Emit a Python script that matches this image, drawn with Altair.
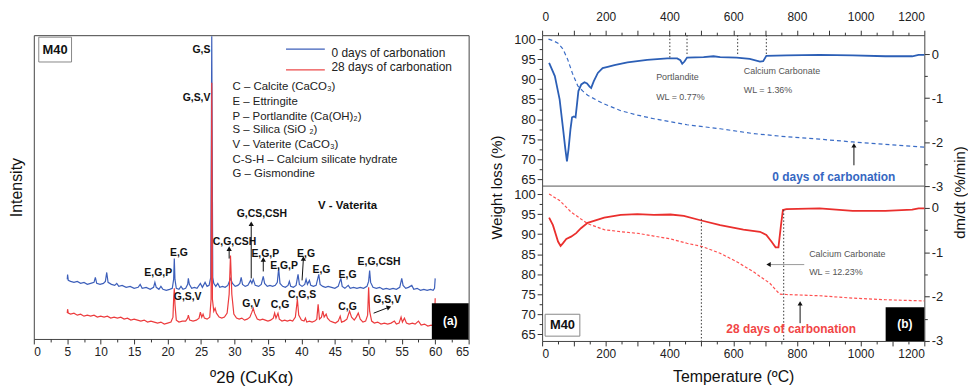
import altair as alt
import pandas as pd

FONT = "Liberation Sans"

# ---------------- XRD data (left panel): (2theta, intensity a.u.) ----------------
blue_xrd = [(5.0,60),(5.05,65),(5.15,59),(5.5,58),(6.0,57),(6.5,58),(7.0,56),(7.5,57),(8.0,55),(8.5,56),
    (9.0,57),(9.2,62),(9.4,56),(9.9,55),(10.4,56),(10.7,58),(10.9,67),(11.1,57),(11.6,55),(12.1,54),
    (12.4,56),(12.7,53),(13.2,54),(13.8,52),(14.4,53),(15.0,51),(15.6,52),(15.9,55),(16.2,51),(16.8,52),
    (17.4,50),(17.9,52),(18.1,57),(18.3,52),(18.7,50),(19.0,53),(19.3,50),(19.8,49),(20.3,50),(20.7,51),
    (20.9,60),(21.0,81),(21.1,60),(21.3,51),(21.7,50),(22.0,53),(22.3,50),(22.7,51),(23.0,55),(23.1,61),
    (23.25,55),(23.6,51),(24.0,52),(24.4,51),(24.9,56),(25.2,52),(25.6,57),(25.9,53),(26.2,54),(26.45,62),
    (26.6,305),(26.75,62),(26.9,56),(27.2,53),(27.5,56),(27.8,52),(28.2,53),(28.6,52),(29.0,54),(29.4,61),
    (29.7,56),(30.1,53),(30.5,54),(30.8,56),(31.0,62),(31.2,55),(31.6,53),(32.0,54),(32.4,59),(32.6,56),
    (32.8,60),(33.1,54),(33.6,53),(34.0,55),(34.3,63),(34.5,56),(34.9,53),(35.3,54),(35.7,53),(36.1,54),
    (36.4,57),(36.6,71),(36.8,56),(37.2,53),(37.6,52),(38.0,54),(38.2,58),(38.4,53),(38.8,52),(39.2,54),
    (39.5,65),(39.7,55),(40.1,53),(40.5,55),(40.7,60),(40.9,55),(41.2,59),(41.4,54),(41.8,53),(42.2,54),
    (42.6,65),(42.8,55),(43.2,53),(43.6,52),(44.0,53),(44.5,52),(45.0,51),(45.5,53),(45.9,61),(46.1,53),
    (46.5,51),(47.0,54),(47.3,51),(47.8,52),(48.3,51),(48.8,52),(49.3,51),(49.8,53),(50.05,58),(50.2,69),
    (50.35,57),(50.7,52),(51.2,51),(51.7,52),(52.2,50),(52.7,51),(53.2,50),(53.7,51),(54.2,50),(54.7,52),
    (55.0,61),(55.2,54),(55.6,51),(56.0,52),(56.5,54),(56.8,50),(57.3,51),(57.8,49),(58.3,50),(58.8,49),
    (59.3,50),(59.7,49),(59.9,51),(60.0,61)]

red_xrd = [(5.0,26),(5.05,30),(5.15,26),(5.5,25),(6.0,26),(6.5,24),(7.0,25),(7.5,23),(8.0,24),(8.5,23),
    (9.0,24),(9.5,22),(10.0,23),(10.5,22),(11.0,23),(11.5,21),(12.0,22),(12.5,21),(13.0,22),(13.5,20),
    (14.0,21),(14.5,19),(15.0,20),(15.5,19),(16.0,18),(16.5,19),(17.0,17),(17.5,18),(18.0,17),(18.5,16),
    (19.0,17),(19.5,15),(20.0,16),(20.5,17),(20.8,22),(20.9,40),(21.0,51),(21.1,35),(21.3,19),(21.7,17),
    (22.2,18),(22.7,18),(23.0,21),(23.1,24),(23.3,19),(23.8,18),(24.3,19),(24.7,21),(24.9,27),(25.1,22),
    (25.3,25),(25.5,21),(25.9,20),(26.3,22),(26.5,40),(26.6,258),(26.7,40),(26.9,28),(27.1,31),(27.3,26),
    (27.7,22),(28.1,21),(28.5,22),(28.9,26),(29.2,45),(29.4,84),(29.6,45),(29.9,25),(30.3,21),(30.7,20),
    (31.1,21),(31.5,19),(31.9,20),(32.3,22),(32.6,27),(32.8,31),(33.0,26),(33.4,20),(33.8,19),(34.2,20),
    (34.6,19),(35.0,18),(35.4,19),(35.8,21),(36.0,26),(36.2,21),(36.5,26),(36.7,20),(37.1,18),(37.5,19),
    (37.9,18),(38.3,19),(38.7,18),(39.1,22),(39.4,40),(39.6,24),(40.0,19),(40.4,18),(40.6,21),(40.8,17),
    (41.2,18),(41.6,17),(42.0,18),(42.3,20),(42.5,35),(42.7,20),(43.0,22),(43.2,28),(43.4,22),(43.7,25),
    (43.9,21),(44.3,18),(44.7,17),(45.1,16),(45.5,18),(45.8,23),(46.0,17),(46.4,18),(46.8,20),(47.2,28),
    (47.5,22),(47.9,19),(48.2,22),(48.5,26),(48.8,20),(49.2,17),(49.6,18),(49.9,24),(50.05,52),(50.2,28),
    (50.5,18),(50.9,16),(51.4,17),(51.9,15),(52.4,16),(52.9,15),(53.4,16),(53.9,18),(54.2,15),(54.6,16),
    (54.9,22),(55.1,17),(55.4,21),(55.7,16),(56.1,15),(56.6,16),(57.0,15),(57.5,18),(57.9,14),(58.4,15),
    (58.9,13),(59.4,14),(59.8,13),(59.95,28),(60.0,41)]

# phase labels (text, 2theta, intensity)
phase_labels = [("E,G,P",18.6,66),("E,G",21.7,87),("C,G,CSH",30.0,98),("G,CS,CSH",34.1,126),
    ("E,G,P",34.6,86),("E,G,P",37.4,73),("E,G",40.7,86),("E,G",43.0,69),("E,G",46.9,64),
    ("E,G,CSH",51.6,78),("G,S,V",23.0,42),("G,V",32.5,35),("C,G",36.8,34),("C,G,S",40.1,44),
    ("C,G",46.9,32),("G,S,V",52.8,39)]
peak_labels_right = [("G,S",26.4,291),("G,S,V",26.4,243)]
vaterita_label = [("V - Vaterita",46.9,134)]
legend_lines = [(37.7,43.5,292,"#3d5fba"),(37.7,43.5,271,"#ec4a4a")]
legend_texts = [("0 days of carbonation",44.5,288),("28 days of carbonation",44.5,274)]
phase_key = ["C – Calcite (CaCO₃)","E – Ettringite","P – Portlandite (Ca(OH)₂)","S – Silica (SiO ₂)",
    "V – Vaterite (CaCO₃)","C-S-H –  Calcium silicate hydrate","G – Gismondine"]
phase_key_y = [254,239,224,210,195,180,166]
xrd_arrows = [(32.5,61,32.5,116,0),(29.2,81,29.2,91,0),(34.3,68,34.3,80,0),(40.1,59,40.3,81,0),(50.8,26,53.1,32,69)]

# ---------------- TGA data (right panel) ----------------
tg0 = [(20,100.0),(35,99.6),(50,99.0),(65,97.6),(80,95.0),(95,91.5),(112,88.3),(128,87.0),(143,86.0),
    (170,84.8),(195,83.8),(247,82.1),(300,81.0),(351,80.1),(455,78.6),(559,77.6),(663,76.4),(767,75.6),
    (871,75.0),(975,74.3),(1078,73.7),(1200,73.0)]
dtg0 = [(22,-0.20),(40,-0.50),(55,-1.03),(66,-1.71),(73,-2.16),(78,-2.44),(83,-2.16),(89,-1.71),(94,-1.44),
    (100,-1.42),(105,-1.44),(110,-1.11),(114,-0.84),(123,-0.69),(133,-0.64),(141,-0.67),(149,-0.74),
    (154,-0.77),(162,-0.62),(175,-0.43),(190,-0.32),(206,-0.29),(227,-0.25),(268,-0.19),(330,-0.13),
    (393,-0.10),(424,-0.10),(434,-0.14),(440,-0.22),(447,-0.17),(455,-0.08),(507,-0.07),(538,-0.05),
    (559,-0.07),(611,-0.08),(652,-0.11),(684,-0.17),(694,-0.16),(704,-0.04),(767,-0.03),(871,-0.02),
    (975,-0.03),(1078,-0.05),(1162,-0.05),(1182,-0.02),(1200,-0.02)]
tg28 = [(22,100.0),(55,98.4),(91,95.5),(143,92.6),(195,91.1),(247,90.6),(299,90.2),(351,89.5),(403,88.8),
    (455,87.7),(502,86.9),(559,85.2),(611,83.1),(663,80.6),(715,77.7),(746,75.0),(767,74.9),(871,74.6),
    (975,74.0),(1078,73.6),(1200,73.3)]
dtg28 = [(22,-0.22),(34,-0.39),(50,-0.76),(58,-0.86),(65,-0.80),(76,-0.70),(91,-0.65),(107,-0.57),
    (122,-0.46),(143,-0.34),(195,-0.22),(247,-0.16),(299,-0.14),(351,-0.16),(403,-0.15),(445,-0.18),
    (497,-0.28),(559,-0.39),(632,-0.49),(684,-0.54),(704,-0.61),(720,-0.76),(733,-0.89),(742,-0.89),
    (750,-0.39),(756,-0.05),(767,-0.03),(871,-0.01),(923,-0.04),(975,-0.07),(1078,-0.07),(1162,-0.04),
    (1182,-0.01),(1200,-0.01)]

top_notes = [("Portlandite",358,90.57),("WL = 0.77%",358,85.6),("Calcium Carbonate",633,92.05),("WL = 1.36%",633,87.34)]
top_dotted = [(401,100.99,95.28),(455,100.99,95.78),(614,100.99,95.78),(704,100.99,96.03)]
top_arrow = [(979,68.47,979,73.44,0)]
top_series_label = [("0 days of carbonation",916,65.5)]
bot_notes = [("Calcium Carbonate",838.5,85.11),("WL = 12.23%",838.5,80.40)]
bot_dotted = [(500,93.8,63.3),(758.5,96.03,63.3)]
bot_gray_arrow = [(823,82.38,711,82.38,270)]
bot_arrow = [(810,67.74,810,72.7,0)]
bot_series_label = [("28 days of carbonation",782,66.25)]
divider = [(0,1200,63.27)]

# ---------------- left panel ----------------
def df(rows, cols):
    return pd.DataFrame(rows, columns=cols)

xl_scale = alt.Scale(domain=[0, 65], nice=False, zero=False)
yl_scale = alt.Scale(domain=[0, 306], nice=False, zero=False)
xl_axis = alt.Axis(values=[i * 2.5 for i in range(27)],
                   labelExpr="datum.value % 5 === 0 ? format(datum.value, 'd') : ''",
                   tickSize={"condition": {"test": "datum.value % 5 === 0", "value": 5}, "value": 3},
                   labelFontSize=12, labelPadding=3, title="º2θ (CuKα)", titleFontSize=17,
                   titlePadding=12)
yl_axis = alt.Axis(labels=False, ticks=False, title="Intensity", titleFontSize=16, titlePadding=9)
XL = alt.X("x:Q", scale=xl_scale, axis=xl_axis)
YL = alt.Y("y:Q", scale=yl_scale, axis=yl_axis)

bdf = df(blue_xrd, ["x", "y"])
rdf = df(red_xrd, ["x", "y"])
blue_line = alt.Chart(bdf).mark_line(color="#3d5fba", strokeWidth=1.2).encode(x=XL, y=YL)
red_line = alt.Chart(rdf).mark_line(color="#ec3b3d", strokeWidth=1.2).encode(x=XL, y=YL)

lab_df = df(phase_labels, ["label", "x", "y"])
labs = alt.Chart(lab_df).mark_text(font=FONT, fontSize=10.5, fontWeight="bold", color="#111",
                                   align="center", baseline="middle").encode(x=XL, y=YL, text="label:N")
labs_r = alt.Chart(df(peak_labels_right, ["label", "x", "y"])).mark_text(
    font=FONT, fontSize=10.5, fontWeight="bold", color="#111", align="right", baseline="middle"
).encode(x=XL, y=YL, text="label:N")
vat = alt.Chart(df(vaterita_label, ["label", "x", "y"])).mark_text(
    font=FONT, fontSize=11.5, fontWeight="bold", color="#111", align="center", baseline="middle"
).encode(x=XL, y=YL, text="label:N")
leg_lines = alt.Chart(df(legend_lines, ["x", "x2", "y", "c"])).mark_rule(strokeWidth=1.3).encode(
    x=XL, x2="x2:Q", y=YL, color=alt.Color("c:N", scale=None))
leg_text = alt.Chart(df(legend_texts, ["label", "x", "y"])).mark_text(
    font=FONT, fontSize=12, color="#222", align="left", baseline="middle").encode(x=XL, y=YL, text="label:N")
key_df = pd.DataFrame({"label": phase_key, "x": [29.7] * len(phase_key), "y": phase_key_y})
key_text = alt.Chart(key_df).mark_text(font=FONT, fontSize=11.5, color="#222", align="left",
                                       baseline="middle").encode(x=XL, y=YL, text="label:N")
arr_df = df(xrd_arrows, ["x", "y", "x2", "y2", "a"])
arr_lines = alt.Chart(arr_df).mark_rule(color="#111", strokeWidth=1).encode(x=XL, y=YL, x2="x2:Q", y2="y2:Q")
arr_heads = alt.Chart(arr_df).mark_point(shape="triangle-up", filled=True, size=28, color="#111",
                                         opacity=1).encode(
    x=alt.X("x2:Q", scale=xl_scale, axis=xl_axis), y=alt.Y("y2:Q", scale=yl_scale, axis=yl_axis),
    angle=alt.Angle("a:Q", scale=None))
m40_box = alt.Chart(df([(0.74, 5.64, 279, 304)], ["x", "x2", "y", "y2"])).mark_rect(
    fill="white", stroke="#888", strokeWidth=1).encode(x=XL, x2="x2:Q", y=YL, y2="y2:Q")
m40_txt = alt.Chart(df([("M40", 3.19, 291.5)], ["label", "x", "y"])).mark_text(
    font=FONT, fontSize=13, fontWeight="bold", color="#111", baseline="middle").encode(x=XL, y=YL, text="label:N")
a_box = alt.Chart(df([(59.5, 65, 0, 36)], ["x", "x2", "y", "y2"])).mark_rect(fill="black").encode(
    x=XL, x2="x2:Q", y=YL, y2="y2:Q")
a_txt = alt.Chart(df([("(a)", 62.25, 18)], ["label", "x", "y"])).mark_text(
    font=FONT, fontSize=12, fontWeight="bold", color="white", baseline="middle").encode(x=XL, y=YL, text="label:N")

left = alt.layer(blue_line, red_line, arr_lines, arr_heads, labs, labs_r, vat, leg_lines, leg_text,
                 key_text, m40_box, m40_txt, a_box, a_txt).properties(width=438, height=306)

# ---------------- right panel ----------------
xr_scale = alt.Scale(domain=[0, 1200], nice=False, zero=False)
t_ticks = [i * 50 for i in range(25)]
t_lab = "datum.value % 100 === 0 ? format(datum.value, 'd') : ''"
t_tick = {"condition": {"test": "datum.value % 100 === 0", "value": 5}, "value": 3}
XR_top = alt.X("T:Q", scale=xr_scale, axis=alt.Axis(orient="top", values=t_ticks, labelExpr=t_lab,
               tickSize=t_tick, labelFontSize=12, labelPadding=7, title=None))
XR_bot = alt.X("T:Q", scale=xr_scale, axis=alt.Axis(orient="bottom", values=t_ticks, labelExpr=t_lab,
               tickSize=t_tick, labelFontSize=12, labelPadding=3, title="Temperature (ºC)",
               titleFontSize=16, titlePadding=9))
XR_none = alt.X("T:Q", scale=xr_scale, axis=None)

wl_top = alt.Scale(domain=[63.27, 100.99], range=[152, 0], nice=False, zero=False)
rate_top = alt.Scale(domain=[-3, 0.4286], range=[152, 0], nice=False, zero=False)
wl_bot = alt.Scale(domain=[63.3, 101.99], range=[308, 152], nice=False, zero=False)
rate_bot = alt.Scale(domain=[-3, 0.49], range=[308, 152], nice=False, zero=False)

wl_vals = [65 + 2.5 * i for i in range(15)]
wl_lab = "datum.value % 5 === 0 ? format(datum.value, 'd') : ''"
wl_tick = {"condition": {"test": "datum.value % 5 === 0", "value": 5}, "value": 3}
r_vals = [-3 + 0.5 * i for i in range(7)]
r_lab = "datum.value % 1 === 0 ? (datum.value < 0 ? '-' + abs(datum.value) : '' + datum.value) : ''"
r_tick = {"condition": {"test": "datum.value % 1 === 0", "value": 5}, "value": 3}

ax_wl_top = alt.Axis(orient="left", values=wl_vals, labelExpr=wl_lab, tickSize=wl_tick, labelFontSize=13,
                     labelPadding=2, title="Weight loss (%)", titleFontSize=15, titleAngle=270,
                     titleX=-38, titleY=153, titleAlign="center", titleBaseline="bottom")
ax_wl_bot = alt.Axis(orient="left", values=wl_vals, labelExpr=wl_lab, tickSize=wl_tick, labelFontSize=13,
                     labelPadding=2, title=None)
ax_r_top = alt.Axis(orient="right", values=r_vals, labelExpr=r_lab, tickSize=r_tick, labelFontSize=13,
                    labelPadding=2, title="dm/dt (%/min)", titleFontSize=15, titleAngle=270,
                    titleX=28, titleY=158, titleAlign="center", titleBaseline="top")
ax_r_bot = alt.Axis(orient="right", values=r_vals, labelExpr=r_lab, tickSize=r_tick, labelFontSize=13,
                    labelPadding=2, title=None)

Y_top = alt.Y("W:Q", scale=wl_top, axis=None)
Y_bot = alt.Y("W:Q", scale=wl_bot, axis=None)

tg0_l = alt.Chart(df(tg0, ["T", "W"])).mark_line(color="#3a6cc6", strokeWidth=1.2, strokeDash=[4, 3]).encode(
    x=XR_top, y=alt.Y("W:Q", scale=wl_top, axis=ax_wl_top))
dtg0_l = alt.Chart(df(dtg0, ["T", "R"])).mark_line(color="#2c5fb6", strokeWidth=1.8).encode(
    x=XR_none, y=alt.Y("R:Q", scale=rate_top, axis=ax_r_top))
tg28_l = alt.Chart(df(tg28, ["T", "W"])).mark_line(color="#ff4f4f", strokeWidth=1.2, strokeDash=[3, 2]).encode(
    x=XR_bot, y=alt.Y("W:Q", scale=wl_bot, axis=ax_wl_bot))
dtg28_l = alt.Chart(df(dtg28, ["T", "R"])).mark_line(color="#ea2f2d", strokeWidth=1.8).encode(
    x=XR_none, y=alt.Y("R:Q", scale=rate_bot, axis=ax_r_bot))

def note_layer(rows, Y, size=9, color="#555", weight="normal", align="left"):
    return alt.Chart(df(rows, ["label", "T", "W"])).mark_text(
        font=FONT, fontSize=size, color=color, fontWeight=weight, align=align, baseline="middle"
    ).encode(x=XR_none, y=Y, text="label:N")

def dotted_layer(rows, Y):
    return alt.Chart(df(rows, ["T", "W", "W2"])).mark_rule(color="#333", strokeWidth=1, strokeDash=[1.5, 2]).encode(
        x=XR_none, y=Y, y2="W2:Q")

def arrow_layers(rows, Y, yscale, line_color="#111"):
    d = df(rows, ["T", "W", "T2", "W2", "a"])
    ln = alt.Chart(d).mark_rule(color=line_color, strokeWidth=1).encode(x=XR_none, y=Y, x2="T2:Q", y2="W2:Q")
    hd = alt.Chart(d).mark_point(shape="triangle-up", filled=True, size=26, color="#111", opacity=1).encode(
        x=alt.X("T2:Q", scale=xr_scale, axis=None), y=alt.Y("W2:Q", scale=yscale, axis=None),
        angle=alt.Angle("a:Q", scale=None))
    return [ln, hd]

div_l = alt.Chart(df(divider, ["T", "T2", "W"])).mark_rule(color="#555", strokeWidth=1).encode(
    x=XR_none, x2="T2:Q", y=Y_top)

m40b_box = alt.Chart(df([(9.4, 118.5, 64.5, 69.97)], ["T", "T2", "W", "W2"])).mark_rect(
    fill="white", stroke="#888", strokeWidth=1).encode(x=XR_none, x2="T2:Q", y=Y_bot, y2="W2:Q")
m40b_txt = note_layer([("M40", 64, 67.2)], Y_bot, size=13, color="#111", weight="bold", align="center")
b_box = alt.Chart(df([(1078.6, 1200, 63.3, 71.71)], ["T", "T2", "W", "W2"])).mark_rect(fill="black").encode(
    x=XR_none, x2="T2:Q", y=Y_bot, y2="W2:Q")
b_txt = note_layer([("(b)", 1139, 67.49)], Y_bot, size=12, color="white", weight="bold", align="center")

right_layers = [tg0_l, dtg0_l, tg28_l, dtg28_l,
                dotted_layer(top_dotted, Y_top), dotted_layer(bot_dotted, Y_bot),
                note_layer(top_notes, Y_top), note_layer(bot_notes, Y_bot)]
right_layers += arrow_layers(top_arrow, Y_top, wl_top)
right_layers += arrow_layers(bot_arrow, Y_bot, wl_bot)
right_layers += arrow_layers(bot_gray_arrow, Y_bot, wl_bot, line_color="#999")
right_layers += [note_layer(top_series_label, Y_top, size=12, color="#3567c2", weight="bold", align="center"),
                 note_layer(bot_series_label, Y_bot, size=12, color="#f14545", weight="bold", align="center"),
                 div_l, m40b_box, m40b_txt, b_box, b_txt]

right = alt.layer(*right_layers).resolve_scale(x="independent", y="independent").properties(width=385, height=308)

chart = alt.hconcat(left, right, spacing=74, bounds="flush").configure_axis(
    grid=False, domain=False, tickColor="#333", labelColor="#222", titleColor="#111",
    labelFont=FONT, titleFont=FONT, titleFontWeight="normal"
).configure_view(stroke="#444", strokeWidth=1).properties(
    padding={"left": 0, "top": 0, "right": 0, "bottom": 0})

chart.save("out.html", embed_options={"renderer": "svg", "actions": False})
